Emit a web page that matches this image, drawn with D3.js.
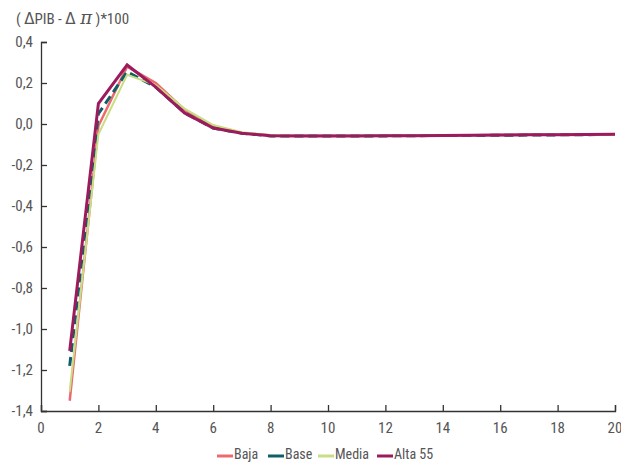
<!DOCTYPE html>
<html>
<head>
<meta charset="utf-8">
<script src="https://cdn.jsdelivr.net/npm/d3@7"></script>
<style>
  body { margin: 0; background: #fff; }
  text { font-family: "Liberation Sans Narrow", "Roboto Condensed", "Liberation Sans", sans-serif; fill: #555; }
</style>
</head>
<body>
<div id="viz"></div>
<script>
var periods = d3.range(1, 21),
    baja  = [-1.35, -0.01, 0.28, 0.20, 0.07, -0.01, -0.045, -0.055, -0.057, -0.057, -0.057, -0.056, -0.056, -0.055, -0.055, -0.054, -0.053, -0.053, -0.052, -0.051],
    base  = [-1.18, 0.05, 0.255, 0.18, 0.055, -0.02, -0.045, -0.058, -0.059, -0.059, -0.058, -0.058, -0.057, -0.056, -0.056, -0.055, -0.054, -0.053, -0.052, -0.051],
    media = [-1.305, -0.05, 0.24, 0.19, 0.075, -0.005, -0.04, -0.055, -0.057, -0.057, -0.057, -0.056, -0.056, -0.055, -0.055, -0.054, -0.053, -0.053, -0.052, -0.052],
    alta  = [-1.107, 0.10, 0.288, 0.18, 0.054, -0.02, -0.045, -0.057, -0.058, -0.058, -0.058, -0.057, -0.057, -0.056, -0.055, -0.054, -0.053, -0.052, -0.051, -0.05],
    xTicks = d3.range(0, 21, 2),
    yTicks = [0.4, 0.2, 0, -0.2, -0.4, -0.6, -0.8, -1.0, -1.2, -1.4];

var series = [
  { name: 'Baja',    values: baja,  color: '#ec6a6e', width: 2.5, dash: null },
  { name: 'Base',    values: base,  color: '#0f5f66', width: 3,   dash: '9,5' },
  { name: 'Media',   values: media, color: '#c9dd85', width: 2,   dash: null },
  { name: 'Alta 55', values: alta,  color: '#9c1b5c', width: 3,   dash: null }
];

var svg = d3.select('#viz').append('svg')
    .attr('width', 621)
    .attr('height', 463);

var xScale = d3.scaleLinear().domain([0, 20]).range([41, 615]),
    yScale = d3.scaleLinear().domain([-1.4, 0.4]).range([411, 42]);

var fmt = function(d) { return d3.format('.1f')(d).replace('.', ',').replace('−', '-'); };

// axes
svg.append('g')
    .attr('transform', 'translate(41,0)')
    .call(d3.axisRight(yScale).tickValues(yTicks).tickSize(6).tickFormat(''));
svg.append('g')
    .attr('transform', 'translate(0,411)')
    .call(d3.axisTop(xScale).tickValues(xTicks).tickSize(6).tickFormat(''));
svg.selectAll('.domain').attr('stroke', '#333').attr('stroke-width', 1.3);
svg.selectAll('.tick line').attr('stroke', '#333').attr('stroke-width', 1.3);

svg.append('g').selectAll('text').data(yTicks)
  .enter().append('text')
    .attr('x', 33)
    .attr('y', function(d) { return yScale(d) + 5; })
    .attr('text-anchor', 'end')
    .style('font-size', '15px')
    .text(fmt);

svg.append('g').selectAll('text').data(xTicks)
  .enter().append('text')
    .attr('x', xScale)
    .attr('y', 433)
    .attr('text-anchor', 'middle')
    .style('font-size', '15px')
    .text(function(d) { return d; });

// title
var title = svg.append('text').attr('x', 16).attr('y', 24).style('font-size', '15px');
title.append('tspan').text('( ');
title.append('tspan').style('font-family', 'DejaVu Sans').style('font-size', '15px').text('Δ');
title.append('tspan').text('PIB - ');
title.append('tspan').style('font-family', 'DejaVu Sans').style('font-size', '15px').text('Δ ');
title.append('tspan').style('font-family', 'DejaVu Serif').style('font-style', 'italic').style('font-size', '18px').text('π');
title.append('tspan').text(' )*100');

// lines
var line = d3.line()
    .x(function(d, i) { return xScale(periods[i]); })
    .y(function(d) { return yScale(d); });

svg.append('g').selectAll('path').data(series)
  .enter().append('path')
    .attr('d', function(s) { return line(s.values); })
    .attr('fill', 'none')
    .attr('stroke', function(s) { return s.color; })
    .attr('stroke-width', function(s) { return s.width; })
    .attr('stroke-dasharray', function(s) { return s.dash; })
    .attr('stroke-linejoin', 'miter');

// legend
var legendX = [217, 268, 318, 377];
var legend = svg.append('g').selectAll('g').data(series)
  .enter().append('g')
    .attr('transform', function(s, i) { return 'translate(' + legendX[i] + ',0)'; });
legend.append('line')
    .attr('x1', 0).attr('x2', 16)
    .attr('y1', 456).attr('y2', 456)
    .attr('stroke', function(s) { return s.color; })
    .attr('stroke-width', 3);
legend.append('text')
    .attr('x', 17)
    .attr('y', 459)
    .style('font-size', '14px')
    .text(function(s) { return s.name; });
</script>
</body>
</html>
